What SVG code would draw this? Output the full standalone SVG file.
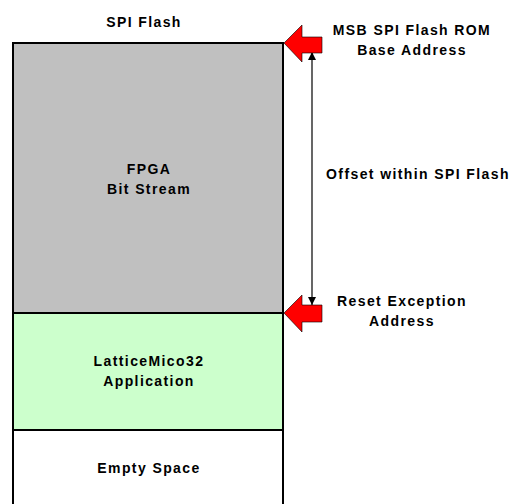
<svg xmlns="http://www.w3.org/2000/svg" width="514" height="504" viewBox="0 0 514 504">
<defs>
<style>
text{font-family:"Liberation Sans",Arial,sans-serif;font-weight:bold;font-size:14px;letter-spacing:1.4px;fill:#000;text-anchor:middle}
.blk{stroke:#000;stroke-width:2}
.red{fill:#ff0000;stroke:#000;stroke-width:0.6}
</style>
<marker id="ah" viewBox="0 0 10 10" refX="10" refY="5" markerWidth="8" markerHeight="10" markerUnits="userSpaceOnUse" orient="auto">
<path d="M0,0 L10,5 L0,10 Z" fill="#000"/>
</marker>
</defs>
<rect width="514" height="504" fill="#fff"/>
<text x="144" y="27">SPI Flash</text>
<g id="fpga">
<rect x="13" y="43" width="270" height="270" fill="#c0c0c0" class="blk"/>
<text x="149" y="174">FPGA</text>
<text x="149" y="194">Bit Stream</text>
</g>
<g id="app">
<rect x="13" y="313" width="270" height="117" fill="#ccffcc" class="blk"/>
<text x="149" y="366">LatticeMico32</text>
<text x="149" y="386">Application</text>
</g>
<g id="empty">
<path d="M13,430 V505 M283,430 V505" class="blk" fill="none"/>
<rect x="14" y="431" width="268" height="74" fill="#fff"/>
<text x="149" y="473">Empty Space</text>
</g>
<g id="connectors">
<line x1="312" y1="178" x2="312" y2="52" stroke="#000" stroke-width="1.2" marker-end="url(#ah)"/>
<line x1="312" y1="178" x2="312" y2="305" stroke="#000" stroke-width="1.2" marker-end="url(#ah)"/>
<path class="red" d="M284,43 L302,25 L302,37 L322,37 L322,53 L302,53 L302,62 Z"/>
<path class="red" d="M284,313 L302,295 L302,305 L322,305 L322,322 L302,322 L302,332 Z"/>
</g>
<g id="labels">
<text x="412" y="35">MSB SPI Flash ROM</text>
<text x="412" y="55">Base Address</text>
<text x="418" y="179">Offset within SPI Flash</text>
<text x="402" y="306">Reset Exception</text>
<text x="402" y="326">Address</text>
</g>
</svg>
